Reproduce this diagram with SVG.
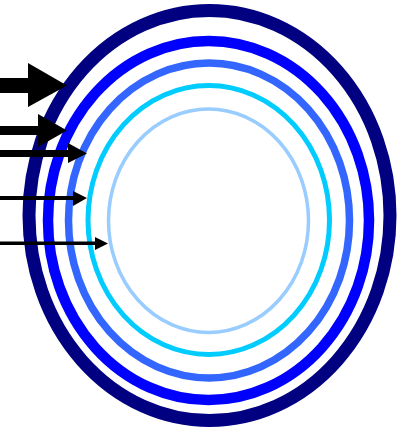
<svg xmlns="http://www.w3.org/2000/svg" width="404" height="432" viewBox="0 0 404 432">
<style>
.ring{fill:none}
.arrow{fill:#000;stroke:none}
</style>
<rect width="404" height="432" fill="#fff"/>
<g id="ring1"><ellipse class="ring" cx="209.5" cy="215.5" rx="180.5" ry="205" stroke="#000080" stroke-width="13"/></g>
<g id="ring2"><ellipse class="ring" cx="208.5" cy="220.5" rx="160.5" ry="179.5" stroke="#0000ff" stroke-width="10.5"/></g>
<g id="ring3"><ellipse class="ring" cx="209" cy="220.5" rx="140.5" ry="157.5" stroke="#3366ff" stroke-width="7.5"/></g>
<g id="ring4"><ellipse class="ring" cx="208.75" cy="220" rx="120.75" ry="134.5" stroke="#00ccff" stroke-width="5"/></g>
<g id="ring5"><ellipse class="ring" cx="208.5" cy="220.75" rx="100" ry="111.75" stroke="#99ccff" stroke-width="3.5"/></g>
<g id="connectors">
<path class="arrow" d="M0 78 H28 V63 L67 85.5 L28 107 V93 H0 Z"/>
<path class="arrow" d="M0 126 H38 V114 L67 130.5 L38 147 V135 H0 Z"/>
<path class="arrow" d="M0 150 H68 V143 L87 153.5 L68 163 V157 H0 Z"/>
<path class="arrow" d="M0 196 H73 V191 L87 198 L73 206 V200 H0 Z"/>
<path class="arrow" d="M0 241.5 H95 V237 L108 243.5 L95 250 V245 H0 Z"/>
</g>
</svg>
